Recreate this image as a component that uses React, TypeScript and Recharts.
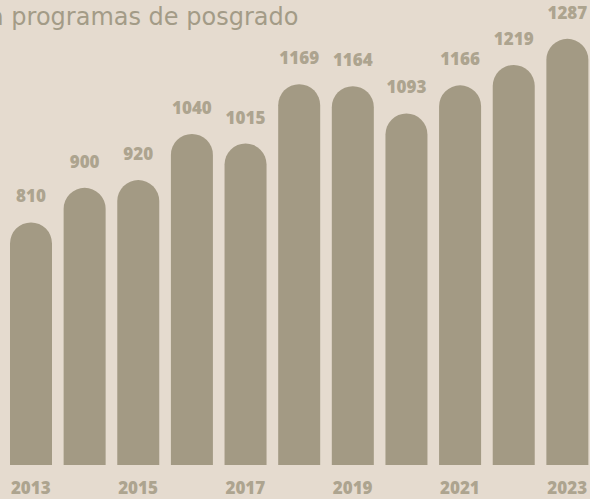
import React from "react";
import { BarChart, Bar, XAxis, YAxis, LabelList } from "recharts";

const years = ["2013", "2014", "2015", "2016", "2017", "2018", "2019", "2020", "2021", "2022", "2023"];
const values = [810, 900, 920, 1040, 1015, 1169, 1164, 1093, 1166, 1219, 1287];
const titleText = "a programas de posgrado";

const data = years.map((y, i) => ({ year: y, value: values[i] }));

const BG = "#e5dbcf";
const BAR = "#a39a84";
const LABEL = "#ada48f";
const TITLE = "#a39b87";
const FONT = "'Open Sans', Lato, sans-serif";

export default function App() {
  return (
    <div style={{ position: "absolute", left: 0, top: 0, width: 590, height: 499, overflow: "hidden", background: BG }}>
      <svg width={590} height={40} style={{ position: "absolute", left: 0, top: 0 }}>
        <text x={-11} y={25} fill={TITLE} fontFamily="DejaVu Sans" fontSize={24}>
          {titleText}
        </text>
      </svg>
      <div style={{ position: "absolute", left: 0, top: 0 }}>
        <BarChart width={598} height={499} data={data} margin={{ top: 28, right: 4, left: 4, bottom: 0 }}>
          <YAxis hide domain={[180, 1315]} />
          <XAxis
            dataKey="year"
            interval={1}
            height={34}
            tickLine={false}
            axisLine={false}
            tickSize={6}
            tickMargin={11}
            tick={{ fill: LABEL, fontSize: 17, fontWeight: 800, fontFamily: FONT }}
          />
          <Bar dataKey="value" fill={BAR} barSize={42} radius={[21, 21, 0, 0]} isAnimationActive={false}>
            <LabelList
              dataKey="value"
              position="top"
              offset={20}
              fill={LABEL}
              style={{ fontSize: 17, fontWeight: 800, fontFamily: FONT }}
            />
          </Bar>
        </BarChart>
      </div>
    </div>
  );
}
